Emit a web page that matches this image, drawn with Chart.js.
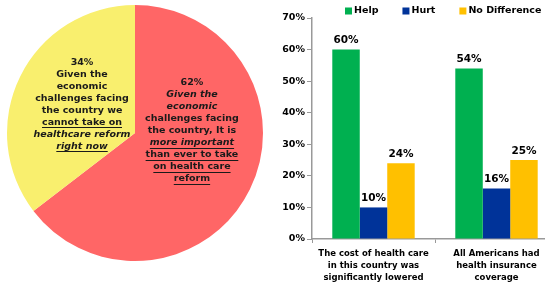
<!DOCTYPE html>
<html>
<head>
<meta charset="utf-8">
<script src="https://cdn.jsdelivr.net/npm/chart.js@4"></script>
<style>
  html, body { margin: 0; padding: 0; background: #fff; }
  body { width: 545px; height: 282px; overflow: hidden; position: relative; }
  #pieBox { position: absolute; left: 0; top: 0; width: 270px; height: 282px; }
  #barBox { position: absolute; left: 260px; top: 0; width: 298px; height: 282px; }
</style>
</head>
<body>
<div id="pieBox"><canvas id="pie-chart"></canvas></div>
<div id="barBox"><canvas id="bar-chart"></canvas></div>
<script>
// pie data
const pieValues = [62, 34];
const pieColors = ['#FF6666', '#F9EF6E'];
// label text for each slice, one entry per line
const pieLabels = [
    [
        { t: '62%' },
        { t: 'Given the', i: true },
        { t: 'economic', i: true },
        { t: 'challenges facing' },
        { t: 'the country, It is' },
        { t: 'more important', i: true, u: true },
        { t: 'than ever to take', u: true },
        { t: 'on health care', u: true },
        { t: 'reform', u: true }
    ],
    [
        { t: '34%' },
        { t: 'Given the' },
        { t: 'economic' },
        { t: 'challenges facing' },
        { t: 'the country we' },
        { t: 'cannot take on', u: true },
        { t: 'healthcare reform', i: true },
        { t: 'right now', i: true, u: true }
    ]
];
// where each label block sits, as a fraction of the radius from the centre
const pieLabelAnchors = [[0.445, -0.016], [-0.414, -0.223]];

// bar data
const categories = [
    ['The cost of health care', 'in this country was', 'significantly lowered'],
    ['All Americans had', 'health insurance', 'coverage']
];
const seriesNames = ['Help', 'Hurt', 'No Difference'];
const helpValues = [60, 54];
const hurtValues = [10, 16];
const noDiffValues = [24, 25];
const seriesColors = ['#00B050', '#003399', '#FFC000'];
const yTicks = [0, 10, 20, 30, 40, 50, 60, 70];

const pieTextPlugin = {
    id: 'pieText',
    afterDatasetsDraw(chart) {
        const ctx = chart.ctx;
        const arc = chart.getDatasetMeta(0).data[0];
        const cx = arc.x, cy = arc.y, r = arc.outerRadius;
        const lh = 12;
        ctx.save();
        ctx.fillStyle = '#1a1a1a';
        ctx.strokeStyle = '#1a1a1a';
        ctx.lineWidth = 1;
        ctx.textAlign = 'center';
        ctx.textBaseline = 'middle';
        pieLabels.forEach((lines, k) => {
            const ax = cx + pieLabelAnchors[k][0] * r;
            const ay = cy + pieLabelAnchors[k][1] * r;
            const y0 = ay - (lines.length - 1) * lh / 2;
            lines.forEach((ln, j) => {
                const y = y0 + j * lh;
                ctx.font = (ln.i ? 'italic ' : '') + 'bold 9.5px "DejaVu Sans"';
                ctx.fillText(ln.t, ax, y);
                if (ln.u) {
                    const w = ctx.measureText(ln.t).width;
                    ctx.beginPath();
                    ctx.moveTo(ax - w / 2, Math.round(y + 5) + 0.5);
                    ctx.lineTo(ax + w / 2, Math.round(y + 5) + 0.5);
                    ctx.stroke();
                }
            });
        });
        ctx.restore();
    }
};

const barLabelPlugin = {
    id: 'barLabels',
    afterDatasetsDraw(chart) {
        const ctx = chart.ctx;
        ctx.save();
        ctx.fillStyle = '#000';
        ctx.font = 'bold 10.5px "DejaVu Sans"';
        ctx.textAlign = 'center';
        ctx.textBaseline = 'middle';
        chart.data.datasets.forEach((ds, i) => {
            chart.getDatasetMeta(i).data.forEach((bar, j) => {
                ctx.fillText(ds.data[j] + '%', bar.x, bar.y - 9);
            });
        });
        ctx.restore();
    }
};

const legendPlugin = {
    id: 'topLegend',
    afterDraw(chart) {
        const ctx = chart.ctx;
        let x = 85;
        const y = 11;
        ctx.save();
        ctx.font = 'bold 9.5px "DejaVu Sans"';
        ctx.textBaseline = 'middle';
        ctx.textAlign = 'left';
        chart.data.datasets.forEach(ds => {
            ctx.fillStyle = ds.backgroundColor;
            ctx.fillRect(x, y - 3.5, 7, 7);
            ctx.fillStyle = '#000';
            ctx.fillText(ds.label, x + 9, y);
            x += 9 + ctx.measureText(ds.label).width + 24;
        });
        ctx.restore();
    }
};

function createPieChart() {
    const ctx = document.getElementById('pie-chart').getContext('2d');
    new Chart(ctx, {
        type: 'pie',
        data: {
            labels: ['more important than ever', 'cannot take on now'],
            datasets: [{
                data: pieValues,
                backgroundColor: pieColors,
                borderWidth: 0
            }]
        },
        options: {
            responsive: true,
            maintainAspectRatio: false,
            animation: false,
            layout: { padding: { left: 7, right: 7, top: 5, bottom: 21 } },
            plugins: { legend: { display: false }, tooltip: { enabled: false } }
        },
        plugins: [pieTextPlugin]
    });
}

function createBarChart() {
    const ctx = document.getElementById('bar-chart').getContext('2d');
    const values = [helpValues, hurtValues, noDiffValues];
    new Chart(ctx, {
        type: 'bar',
        data: {
            labels: categories,
            datasets: seriesNames.map((name, i) => ({
                label: name,
                data: values[i],
                backgroundColor: seriesColors[i],
                borderWidth: 0,
                categoryPercentage: 0.67,
                barPercentage: 1
            }))
        },
        options: {
            responsive: true,
            maintainAspectRatio: false,
            animation: false,
            layout: { padding: { left: 0, right: 0, top: 18, bottom: 0 } },
            plugins: { legend: { display: false }, tooltip: { enabled: false } },
            scales: {
                x: {
                    afterFit: s => { s.height = 43; },
                    border: { color: '#999', width: 1.5 },
                    grid: { drawOnChartArea: false, color: '#999', tickLength: 4 },
                    ticks: {
                        color: '#000',
                        padding: 5,
                        maxRotation: 0,
                        font: { family: '"DejaVu Sans"', size: 8.5, weight: 'bold', lineHeight: 1.4 }
                    }
                },
                y: {
                    min: 0,
                    max: 70,
                    afterFit: s => { s.width = 52; },
                    afterBuildTicks: s => { s.ticks = yTicks.map(v => ({ value: v })); },
                    border: { color: '#999', width: 1.5 },
                    grid: { drawOnChartArea: false, color: '#999', tickLength: 5 },
                    ticks: {
                        color: '#000',
                        padding: 2,
                        font: { family: '"DejaVu Sans"', size: 9.5, weight: 'bold' },
                        callback: v => v + '%'
                    }
                }
            }
        },
        plugins: [barLabelPlugin, legendPlugin]
    });
}

window.addEventListener('DOMContentLoaded', () => {
    createPieChart();
    createBarChart();
});
</script>
</body>
</html>
